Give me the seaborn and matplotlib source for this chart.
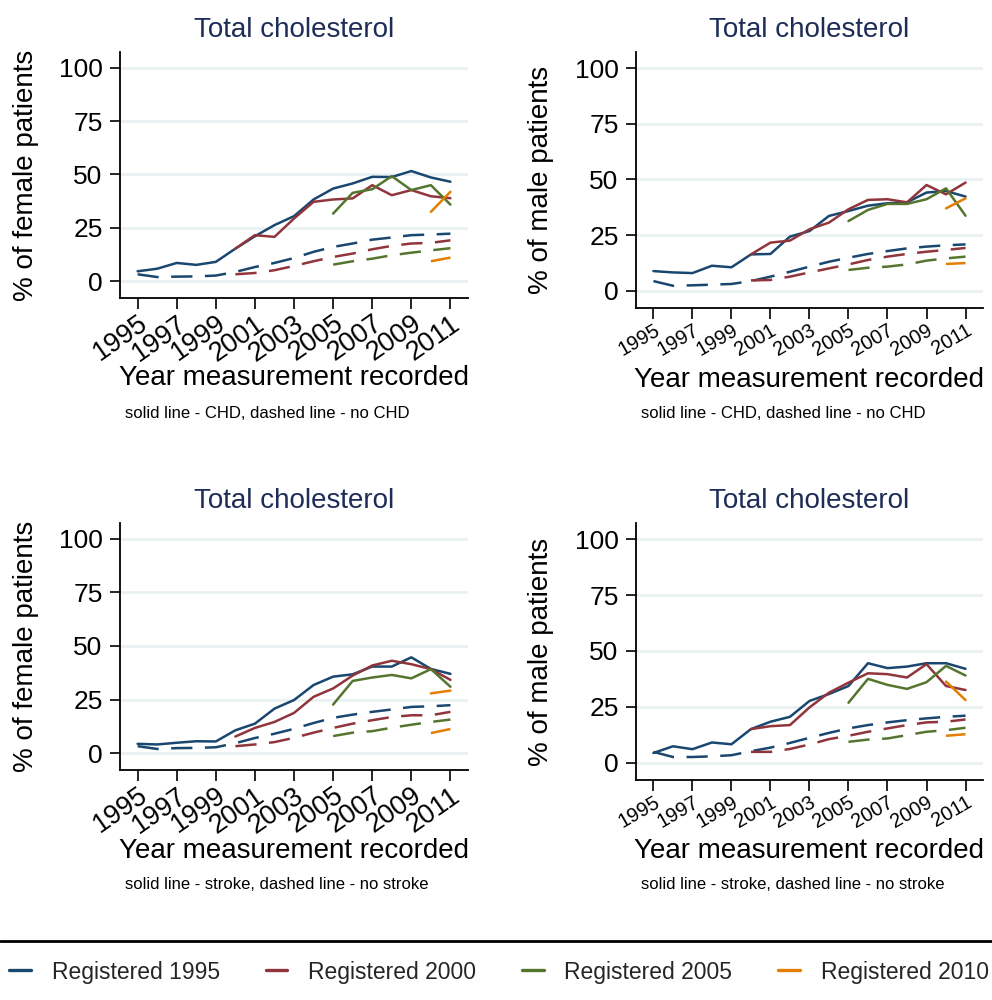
import pandas as pd
import matplotlib.pyplot as plt
import seaborn as sns
from matplotlib.lines import Line2D

YEARS = list(range(1995, 2012))
COHORTS = [1995, 2000, 2005, 2010]
COHORT_LABELS = ['Registered 1995', 'Registered 2000', 'Registered 2005', 'Registered 2010']
COLORS = ['#1a476f', '#90353b', '#55752f', '#e37e00']

# CHD, female (solid = CHD, dashed = no CHD)
chd_f_1995 = [4.7, 5.9, 8.6, 7.7, 9.1, 15.3, 21.1, 26.3, 30.5, 38.3, 43.4, 45.8, 48.9, 48.8, 51.6, 48.6, 46.6]
chd_f_2000 = [15.3, 21.6, 20.8, 29.4, 37.2, 38.3, 38.8, 45.0, 40.3, 42.7, 39.8, 38.9]
chd_f_2005 = [31.7, 41.4, 43.1, 49.2, 42.7, 45.0, 35.9]
chd_f_2010 = [32.5, 41.9]
nochd_f_1995 = [3.3, 2.0, 2.2, 2.3, 2.7, 4.4, 6.7, 8.6, 10.9, 13.8, 16.1, 17.7, 19.5, 20.5, 21.6, 21.9, 22.3]
nochd_f_2000 = [3.3, 3.9, 5.2, 7.2, 9.4, 11.4, 13.0, 15.0, 16.6, 17.7, 18.0, 19.2]
nochd_f_2005 = [7.8, 9.4, 10.6, 12.2, 13.4, 14.5, 15.5]
nochd_f_2010 = [9.4, 11.1]

# CHD, male
chd_m_1995 = [8.8, 8.2, 7.9, 11.2, 10.5, 16.3, 16.5, 24.3, 26.8, 33.6, 35.8, 38.2, 39.3, 39.7, 44.1, 44.8, 42.3]
chd_m_2000 = [16.3, 21.6, 22.5, 27.6, 30.6, 36.6, 40.8, 41.1, 39.7, 47.5, 43.3, 48.6]
chd_m_2005 = [31.3, 36.3, 39.0, 39.0, 41.1, 46.0, 33.7]
chd_m_2010 = [37.0, 41.5]
nochd_m_1995 = [4.3, 2.2, 2.4, 2.7, 3.0, 4.3, 6.3, 8.5, 10.8, 13.0, 14.8, 16.5, 17.8, 19.0, 19.8, 20.4, 20.8]
nochd_m_2000 = [4.6, 4.8, 6.3, 8.2, 10.0, 11.8, 13.8, 15.3, 16.5, 17.5, 18.3, 19.2]
nochd_m_2005 = [9.3, 10.3, 10.8, 11.8, 13.5, 14.5, 15.3]
nochd_m_2010 = [12.0, 12.4]

# stroke, female
stroke_f_1995 = [4.4, 4.1, 4.9, 5.6, 5.5, 10.7, 13.8, 20.8, 24.8, 31.8, 35.7, 36.8, 40.4, 40.4, 44.7, 39.3, 37.0]
stroke_f_2000 = [7.8, 11.8, 14.6, 18.8, 26.3, 30.2, 36.2, 40.9, 43.1, 41.5, 39.2, 34.2]
stroke_f_2005 = [22.7, 33.7, 35.3, 36.5, 34.9, 39.2, 31.0]
stroke_f_2010 = [27.9, 29.2]
nostroke_f_1995 = [3.3, 2.0, 2.4, 2.5, 2.8, 4.7, 7.1, 9.1, 11.4, 14.1, 16.5, 18.0, 19.3, 20.4, 21.6, 21.9, 22.4]
nostroke_f_2000 = [3.3, 4.1, 5.2, 7.2, 9.6, 11.8, 13.8, 15.4, 16.9, 17.7, 17.7, 19.3]
nostroke_f_2005 = [8.0, 9.6, 10.3, 11.9, 13.3, 14.6, 15.7]
nostroke_f_2010 = [9.4, 11.3]

# stroke, male
stroke_m_1995 = [4.3, 7.3, 6.0, 9.0, 8.2, 15.0, 18.3, 20.5, 27.6, 30.7, 34.3, 44.5, 42.3, 43.0, 44.5, 44.5, 42.0]
stroke_m_2000 = [15.0, 16.3, 16.8, 24.7, 31.3, 35.8, 40.0, 39.6, 38.1, 44.1, 34.3, 32.5]
stroke_m_2005 = [26.8, 37.5, 34.8, 33.0, 36.0, 43.3, 39.0]
stroke_m_2010 = [36.3, 28.0]
nostroke_m_1995 = [4.8, 2.5, 2.5, 2.8, 3.3, 5.1, 6.7, 8.8, 11.1, 13.3, 15.3, 16.8, 18.0, 19.0, 19.8, 20.5, 21.0]
nostroke_m_2000 = [4.8, 4.8, 6.1, 8.1, 10.5, 12.0, 13.8, 15.3, 16.8, 18.0, 18.3, 19.3]
nostroke_m_2005 = [9.3, 10.3, 10.8, 12.3, 13.8, 14.5, 15.6]
nostroke_m_2010 = [12.0, 12.7]


def panel_frame(with_lists, without_lists):
    """Long-form frame: one row per year / cohort / disease status"""
    rows = []
    for cohort, ys_w, ys_wo in zip(COHORTS, with_lists, without_lists):
        yrs = YEARS[YEARS.index(cohort):]
        for yr, v in zip(yrs, ys_w):
            rows.append((yr, v, cohort, 'with'))
        for yr, v in zip(yrs, ys_wo):
            rows.append((yr, v, cohort, 'without'))
    return pd.DataFrame(rows, columns=['year', 'pct', 'cohort', 'status'])


sns.set_theme(style='white')
plt.rcParams['font.family'] = ['Liberation Sans', 'DejaVu Sans']

fig = plt.figure(figsize=(9.92, 10), dpi=100)

panels = [
    # axes rect, data, ylabel, note, xtick rotation, xtick size, ylabel x, xlabel baseline, note baseline
    ([0.121, 0.702, 0.3508, 0.246],
     panel_frame([chd_f_1995, chd_f_2000, chd_f_2005, chd_f_2010],
                 [nochd_f_1995, nochd_f_2000, nochd_f_2005, nochd_f_2010]),
     '% of female patients', 'solid line - CHD, dashed line - no CHD', 35, 19.5, 0.026, 385, 418),
    ([0.641, 0.692, 0.350, 0.256],
     panel_frame([chd_m_1995, chd_m_2000, chd_m_2005, chd_m_2010],
                 [nochd_m_1995, nochd_m_2000, nochd_m_2005, nochd_m_2010]),
     '% of male patients', 'solid line - CHD, dashed line - no CHD', 30, 14.5, 0.545, 387, 418),
    ([0.121, 0.230, 0.3508, 0.247],
     panel_frame([stroke_f_1995, stroke_f_2000, stroke_f_2005, stroke_f_2010],
                 [nostroke_f_1995, nostroke_f_2000, nostroke_f_2005, nostroke_f_2010]),
     '% of female patients', 'solid line - stroke, dashed line - no stroke', 35, 19.5, 0.026, 858, 889),
    ([0.641, 0.220, 0.350, 0.257],
     panel_frame([stroke_m_1995, stroke_m_2000, stroke_m_2005, stroke_m_2010],
                 [nostroke_m_1995, nostroke_m_2000, nostroke_m_2005, nostroke_m_2010]),
     '% of male patients', 'solid line - stroke, dashed line - no stroke', 30, 14.5, 0.545, 858, 889),
]

palette = dict(zip(COHORTS, COLORS))
dashes = {'with': '', 'without': (8.5, 5)}

for rect, df, ylabel, note, rot, xsize, ylab_x, xlab_base, note_base in panels:
    ax = fig.add_axes(rect)
    sns.lineplot(data=df, x='year', y='pct', hue='cohort', style='status',
                 palette=palette, dashes=dashes, estimator=None,
                 linewidth=1.8, legend=False, ax=ax)

    ax.set_xlim(1994.1, 2011.9)
    ax.set_ylim(-7.8, 107.3)
    ax.set_yticks([0, 25, 50, 75, 100])
    ax.set_xticks(list(range(1995, 2012, 2)))
    ax.yaxis.grid(True, color='#e8f0f2', linewidth=1.8)
    ax.set_axisbelow(True)

    for side in ['top', 'right']:
        ax.spines[side].set_visible(False)
    for side in ['left', 'bottom']:
        ax.spines[side].set_color('black')
        ax.spines[side].set_linewidth(1.3)

    ax.tick_params(axis='y', left=True, direction='out', length=7, width=1.2,
                   color='black', pad=5.5, labelsize=19, labelcolor='black')
    ax.tick_params(axis='x', bottom=True, direction='out', length=8, width=1.2,
                   color='black', pad=1, labelsize=xsize, labelcolor='black')
    plt.setp(ax.get_xticklabels(), rotation=rot, ha='right', va='top',
             rotation_mode='anchor')

    ax.set_title('Total cholesterol', fontsize=20, color='#1e2d58', pad=11)
    ax.set_xlabel('')
    ax.set_ylabel(ylabel, fontsize=20, color='black')
    ax.yaxis.label.set_va('center')
    ax.yaxis.set_label_coords(ylab_x, rect[1] + rect[3] / 2, transform=fig.transFigure)

    x_mid = rect[0] + rect[2] / 2
    fig.text(x_mid, 1 - xlab_base / 1000, 'Year measurement recorded',
             ha='center', va='baseline', fontsize=20, color='black')
    fig.text(rect[0] + 0.005, 1 - note_base / 1000, note,
             ha='left', va='baseline', fontsize=12, color='black')

# separator line above the legend
fig.add_artist(Line2D([0, 1], [0.059, 0.059], transform=fig.transFigure,
                      color='black', linewidth=2))

handles = [Line2D([], [], color=c, linewidth=2.4) for c in COLORS]
fig.legend(handles, COHORT_LABELS, loc='center', bbox_to_anchor=(0.503, 0.028),
           ncol=4, frameon=False, fontsize=16.5, handlelength=0.95,
           handletextpad=0.9, columnspacing=2.0)

fig.savefig('out.png', dpi=100)
